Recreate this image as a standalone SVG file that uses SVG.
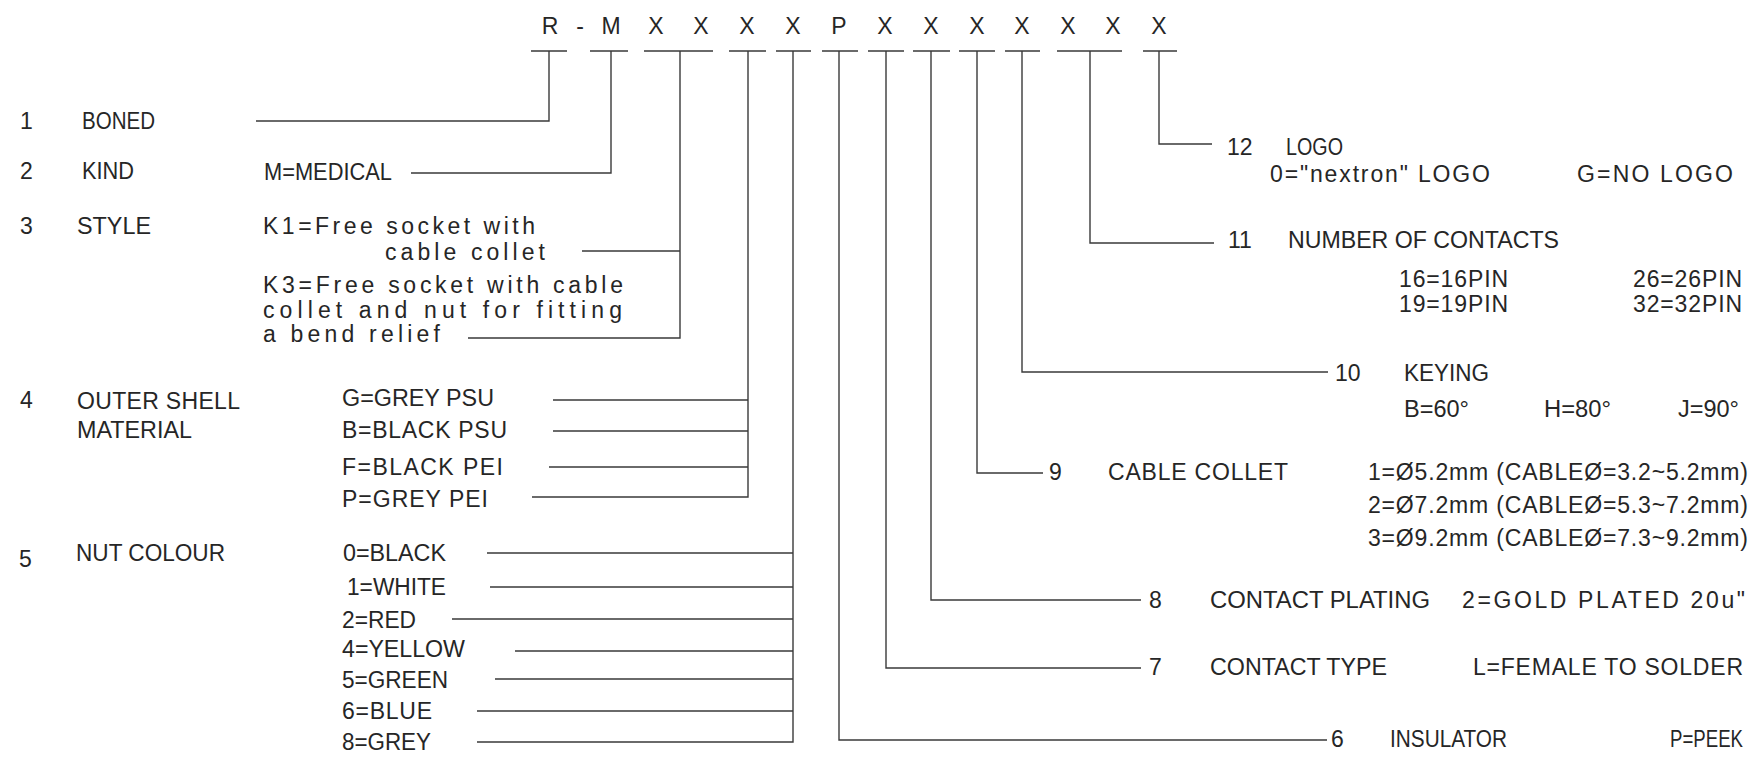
<svg xmlns="http://www.w3.org/2000/svg" width="1764" height="763" viewBox="0 0 1764 763">
<style>
text{font-family:"Liberation Sans",Arial,sans-serif;font-size:23px;fill:#262626}
.h{text-anchor:middle;font-size:23px}
.c{fill:none;stroke:#3a3a3a;stroke-width:1.4}
</style>
<rect width="1764" height="763" fill="#fff"/>
<g id="header">
<text class="h" x="550" y="34">R</text>
<text class="h" x="580" y="34">-</text>
<text class="h" x="611" y="34">M</text>
<text class="h" x="656" y="34">X</text>
<text class="h" x="701" y="34">X</text>
<text class="h" x="747" y="34">X</text>
<text class="h" x="793" y="34">X</text>
<text class="h" x="839" y="34">P</text>
<text class="h" x="885" y="34">X</text>
<text class="h" x="931" y="34">X</text>
<text class="h" x="977" y="34">X</text>
<text class="h" x="1022" y="34">X</text>
<text class="h" x="1068" y="34">X</text>
<text class="h" x="1113" y="34">X</text>
<text class="h" x="1159" y="34">X</text>
<path class="c" d="M531,51H567M590,51H628M644,51H713M729,51H766M776,51H811M822,51H858M868,51H904M913,51H950M959,51H995M1005,51H1040M1057,51H1122M1143,51H1177"/>
</g>
<g id="connectors">
<path class="c" d="M549,51V121H256"/>
<path class="c" d="M611,51V173H411"/>
<path class="c" d="M680,51V338H468M680,251H582"/>
<path class="c" d="M748,51V497H532M748,400H553M748,431H553M748,467H549"/>
<path class="c" d="M793,51V742H477M793,553H487M793,587H490M793,619H452M793,651H515M793,679H495M793,711H477"/>
<path class="c" d="M839,51V740H1327"/>
<path class="c" d="M886,51V668H1141"/>
<path class="c" d="M931,51V600H1141"/>
<path class="c" d="M977,51V473H1043"/>
<path class="c" d="M1022,51V372H1328"/>
<path class="c" d="M1090,51V243H1214"/>
<path class="c" d="M1159,51V144H1212"/>
</g>
<g id="item1">
<text x="20" y="129">1</text>
<text x="82" y="129" textLength="73" lengthAdjust="spacingAndGlyphs">BONED</text>
</g>
<g id="item2">
<text x="20" y="179">2</text>
<text x="82" y="179" textLength="52" lengthAdjust="spacingAndGlyphs">KIND</text>
<text x="264" y="180" textLength="128" lengthAdjust="spacingAndGlyphs">M=MEDICAL</text>
</g>
<g id="item3">
<text x="20" y="234">3</text>
<text x="77" y="234" textLength="74" lengthAdjust="spacingAndGlyphs">STYLE</text>
<text x="263" y="234" textLength="272" lengthAdjust="spacing">K1=Free socket with</text>
<text x="385" y="260" textLength="160" lengthAdjust="spacing">cable collet</text>
<text x="263" y="293" textLength="360" lengthAdjust="spacing">K3=Free socket with cable</text>
<text x="263" y="318" textLength="359" lengthAdjust="spacing">collet and nut for fitting</text>
<text x="263" y="342" textLength="177" lengthAdjust="spacing">a bend relief</text>
</g>
<g id="item4">
<text x="20" y="408">4</text>
<text x="77" y="409" textLength="163" lengthAdjust="spacing">OUTER SHELL</text>
<text x="77" y="438" textLength="115" lengthAdjust="spacingAndGlyphs">MATERIAL</text>
<text x="342" y="406" textLength="152" lengthAdjust="spacingAndGlyphs">G=GREY PSU</text>
<text x="342" y="438" textLength="165" lengthAdjust="spacing">B=BLACK PSU</text>
<text x="342" y="475" textLength="161" lengthAdjust="spacing">F=BLACK PEI</text>
<text x="342" y="507" textLength="146" lengthAdjust="spacing">P=GREY PEI</text>
</g>
<g id="item5">
<text x="19" y="567">5</text>
<text x="76" y="561" textLength="149" lengthAdjust="spacingAndGlyphs">NUT COLOUR</text>
<text x="343" y="561" textLength="103" lengthAdjust="spacingAndGlyphs">0=BLACK</text>
<text x="347" y="595" textLength="99" lengthAdjust="spacingAndGlyphs">1=WHITE</text>
<text x="342" y="628" textLength="74" lengthAdjust="spacingAndGlyphs">2=RED</text>
<text x="342" y="657" textLength="123" lengthAdjust="spacingAndGlyphs">4=YELLOW</text>
<text x="342" y="688" textLength="106" lengthAdjust="spacingAndGlyphs">5=GREEN</text>
<text x="342" y="719" textLength="90" lengthAdjust="spacing">6=BLUE</text>
<text x="342" y="750" textLength="89" lengthAdjust="spacingAndGlyphs">8=GREY</text>
</g>
<g id="item6">
<text x="1331" y="747">6</text>
<text x="1390" y="747" textLength="117" lengthAdjust="spacingAndGlyphs">INSULATOR</text>
<text x="1670" y="747" textLength="73" lengthAdjust="spacingAndGlyphs">P=PEEK</text>
</g>
<g id="item7">
<text x="1149" y="675">7</text>
<text x="1210" y="675" textLength="177" lengthAdjust="spacingAndGlyphs">CONTACT TYPE</text>
<text x="1473" y="675" textLength="270" lengthAdjust="spacing">L=FEMALE TO SOLDER</text>
</g>
<g id="item8">
<text x="1149" y="608">8</text>
<text x="1210" y="608" textLength="220" lengthAdjust="spacingAndGlyphs">CONTACT PLATING</text>
<text x="1462" y="608" textLength="283" lengthAdjust="spacing">2=GOLD PLATED 20u"</text>
</g>
<g id="item9">
<text x="1049" y="480">9</text>
<text x="1108" y="480" textLength="180" lengthAdjust="spacing">CABLE COLLET</text>
<text x="1368" y="480" textLength="380" lengthAdjust="spacing">1=Ø5.2mm (CABLEØ=3.2~5.2mm)</text>
<text x="1368" y="513" textLength="380" lengthAdjust="spacing">2=Ø7.2mm (CABLEØ=5.3~7.2mm)</text>
<text x="1368" y="546" textLength="380" lengthAdjust="spacing">3=Ø9.2mm (CABLEØ=7.3~9.2mm)</text>
</g>
<g id="item10">
<text x="1335" y="381">10</text>
<text x="1404" y="381" textLength="85" lengthAdjust="spacingAndGlyphs">KEYING</text>
<text x="1404" y="417" textLength="65" lengthAdjust="spacingAndGlyphs">B=60°</text>
<text x="1544" y="417" textLength="67" lengthAdjust="spacingAndGlyphs">H=80°</text>
<text x="1678" y="417" textLength="61" lengthAdjust="spacingAndGlyphs">J=90°</text>
</g>
<g id="item11">
<text x="1228" y="248">11</text>
<text x="1288" y="248" textLength="271" lengthAdjust="spacingAndGlyphs">NUMBER OF CONTACTS</text>
<text x="1399" y="287" textLength="109" lengthAdjust="spacing">16=16PIN</text>
<text x="1633" y="287" textLength="109" lengthAdjust="spacing">26=26PIN</text>
<text x="1399" y="312" textLength="109" lengthAdjust="spacing">19=19PIN</text>
<text x="1633" y="312" textLength="109" lengthAdjust="spacing">32=32PIN</text>
</g>
<g id="item12">
<text x="1227" y="155">12</text>
<text x="1286" y="155" textLength="57" lengthAdjust="spacingAndGlyphs">LOGO</text>
<text x="1270" y="182" textLength="220" lengthAdjust="spacing">0="nextron" LOGO</text>
<text x="1577" y="182" textLength="156" lengthAdjust="spacing">G=NO LOGO</text>
</g>
</svg>
